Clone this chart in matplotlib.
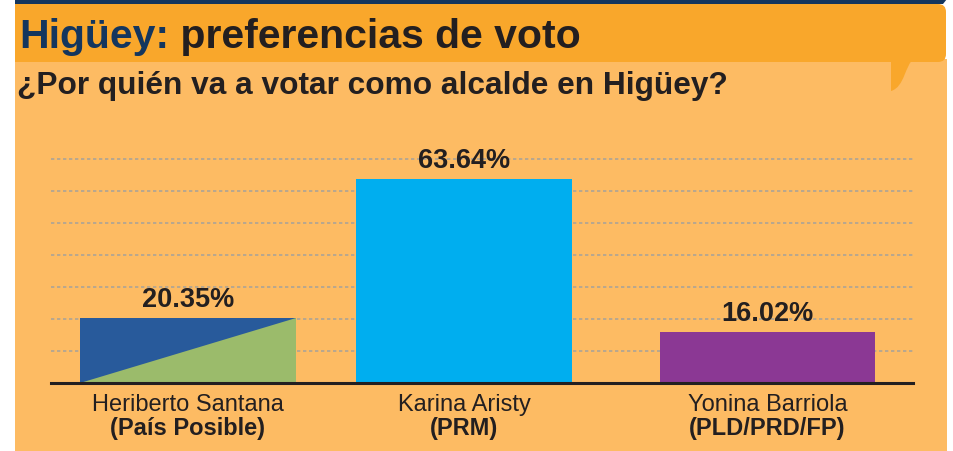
"""
Higüey: preferencias de voto - gráfico de barras
"""

import matplotlib
matplotlib.use('Agg')
import matplotlib.pyplot as plt
from matplotlib.patches import Rectangle, Polygon, FancyBboxPatch, PathPatch
from matplotlib.path import Path
import numpy as np

plt.rcParams['font.family'] = ['Liberation Sans', 'DejaVu Sans']

# datos
candidatos = ['Heriberto Santana', 'Karina Aristy', 'Yonina Barriola']
partidos = ['(País Posible)', '(PRM)', '(PLD/PRD/FP)']
votos = [20.35, 63.64, 16.02]
colores = ['#9bbb6b', '#00aeef', '#8b3894']
color_pp = '#285a9b'  # triángulo azul de País Posible
grid_vals = [10, 20, 30, 40, 50, 60, 70]

# colores del fondo
NARANJA = '#f9a72b'
NARANJA_CLARO = '#fdbb63'
AZUL_OSCURO = '#14365e'
TEXTO = '#231f20'

W, H = 954, 452
fig = plt.figure(figsize=(W / 100, H / 100), dpi=100, facecolor='white')

# fondo en coordenadas de pixel
bg = fig.add_axes([0, 0, 1, 1], zorder=0)
bg.set_xlim(0, W)
bg.set_ylim(H, 0)
bg.axis('off')

bg.add_patch(Rectangle((15, 60), 932, 400, color=NARANJA_CLARO, lw=0))
bg.add_patch(FancyBboxPatch((5, 5), 941, 58, boxstyle='round,pad=0,rounding_size=8',
                            color=NARANJA, lw=0))
# cola del globo
cola = Path([(891, 60), (914, 60), (905, 65), (905, 88), (891, 92), (891, 60)],
            [Path.MOVETO, Path.LINETO, Path.CURVE4, Path.CURVE4, Path.CURVE4, Path.CLOSEPOLY])
bg.add_patch(PathPatch(cola, color=NARANJA, lw=0))
bg.add_patch(Polygon([(15, 0), (947, 0), (943, 5), (15, 5)], closed=True,
                     color=AZUL_OSCURO, lw=0))
bg.add_patch(Rectangle((0, 0), 15, H, color='white', lw=0))

# títulos
t1 = fig.text(19 / W, 1 - 48 / H, 'Higüey:', fontsize=29.5, fontweight='bold',
              color=AZUL_OSCURO, va='baseline', ha='left')
plt.annotate(' preferencias de voto', xy=(1, 0), xycoords=t1, fontsize=29.5,
             fontweight='bold', color=TEXTO, va='bottom', ha='left',
             annotation_clip=False)
fig.text(17 / W, 1 - 94 / H, '¿Por quién va a votar como alcalde en Higüey?',
         fontsize=22.8, fontweight='bold', color=TEXTO, va='baseline', ha='left')

# gráfico
ax = fig.add_axes([51 / W, 1 - 384 / H, 862 / W, 234 / H], zorder=1)
ax.patch.set_alpha(0)

pos = np.array([0, 1, 2.098])
ancho = 0.78

for v in grid_vals:
    ax.axhline(v, color='#aca496', lw=1.2, ls=(0, (2, 1.6)), zorder=0)

ax.bar(pos, votos, width=ancho, color=colores, lw=0, zorder=2)

# barra dividida en diagonal
x0 = pos[0] - ancho / 2
x1 = pos[0] + ancho / 2
ax.add_patch(Polygon([(x0, 0), (x0, votos[0]), (x1, votos[0])], closed=True,
                     color=color_pp, lw=0, zorder=3))

for p, v in zip(pos, votos):
    ax.annotate(f'{v:.2f}%', xy=(p, v), xytext=(0, 8.6), textcoords='offset points',
                ha='center', va='baseline', fontsize=19.5, fontweight='bold', color=TEXTO)

for p, c, pa in zip(pos, candidatos, partidos):
    ax.annotate(c, xy=(p, 0), xytext=(0, -19.5), textcoords='offset points',
                ha='center', va='baseline', fontsize=17, color=TEXTO,
                annotation_clip=False)
    ax.annotate(pa, xy=(p, 0), xytext=(0, -36.5), textcoords='offset points',
                ha='center', va='baseline', fontsize=17, fontweight='bold',
                color=TEXTO, annotation_clip=False)

ax.set_xlim(-0.496, 2.625)
ax.set_ylim(0, 73.1)
for s in ['top', 'right', 'left']:
    ax.spines[s].set_visible(False)
ax.spines['bottom'].set_color(TEXTO)
ax.spines['bottom'].set_linewidth(2.2)
ax.spines['bottom'].set_zorder(4)
ax.set_xticks([])
ax.set_yticks([])

plt.savefig('out.png', dpi=100)
plt.close()
